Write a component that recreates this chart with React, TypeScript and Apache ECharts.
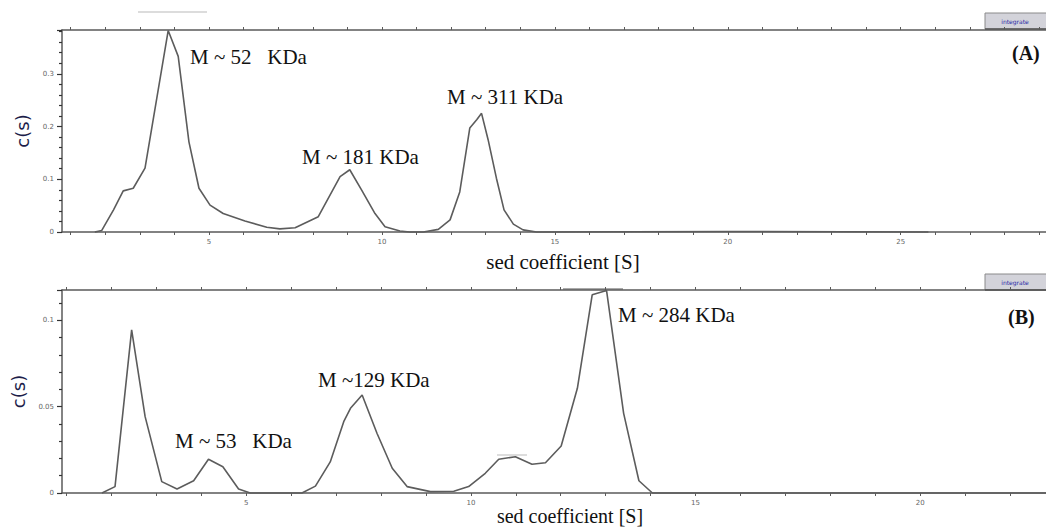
import React, { useEffect, useRef } from "react";
import * as echarts from "echarts";

// Panel A data: sed coefficient [S] vs c(s)
const sedA = [1.7, 1.9, 2.24, 2.52, 2.81, 3.15, 3.82, 4.11, 4.42, 4.71, 5.03, 5.41, 6.04, 6.67, 7.05, 7.49, 8.16, 8.79, 9.07, 9.41, 9.8, 10.09, 10.52, 10.8, 11.2, 11.63, 11.97, 12.25, 12.54, 12.74, 12.88, 13.07, 13.31, 13.53, 13.8, 14.08, 14.47, 20, 25.8];
const csA = [0, 0.003, 0.042, 0.078, 0.083, 0.121, 0.382, 0.333, 0.171, 0.083, 0.051, 0.035, 0.021, 0.009, 0.006, 0.008, 0.029, 0.105, 0.118, 0.08, 0.035, 0.01, 0.002, 0, 0, 0.005, 0.023, 0.076, 0.197, 0.213, 0.225, 0.175, 0.102, 0.042, 0.015, 0.004, 0, 0.001, 0];

// Panel B data
const sedB = [1.79, 2.08, 2.45, 2.75, 3.12, 3.46, 3.83, 4.16, 4.48, 4.83, 5.09, 6.24, 6.54, 6.87, 7.17, 7.32, 7.58, 7.91, 8.25, 8.58, 9.1, 9.62, 9.95, 10.32, 10.62, 10.99, 11.36, 11.66, 12.01, 12.37, 12.7, 13.02, 13.4, 13.74, 14.04, 14.6, 22.8];
const csB = [0, 0.0037, 0.0944, 0.0442, 0.0066, 0.0023, 0.0071, 0.0195, 0.0152, 0.0023, 0, 0, 0.004, 0.018, 0.0413, 0.049, 0.0567, 0.0346, 0.0143, 0.0037, 0.0008, 0.001, 0.0037, 0.0114, 0.0195, 0.021, 0.0166, 0.0175, 0.0272, 0.0606, 0.1147, 0.1172, 0.0461, 0.0071, 0, 0, 0];

// Tick labels / tick positions
const xLabelsA = [5, 10, 15, 20, 25];
const xTicksA = [1, 2, 3, 4, 5, 6, 7, 8, 9, 10, 11, 12, 13, 14, 15, 16, 17, 18, 19, 20, 21, 22, 23, 24, 25, 26, 27, 28, 29];
const xLabelsB = [5, 10, 15, 20];
const xTicksB = [1, 2, 3, 4, 5, 6, 7, 8, 9, 10, 11, 12, 13, 14, 15, 16, 17, 18, 19, 20, 21, 22];
const yLabelsA = [0, 0.1, 0.2, 0.3];
const yLabelsB = [0, 0.05, 0.1];

// Annotations
const labelsA = [
  { text: "M ~ 52   KDa", x: 190, y: 57 },
  { text: "M ~ 181 KDa", x: 302, y: 157 },
  { text: "M ~ 311 KDa", x: 447, y: 97 },
];
const labelsB = [
  { text: "M ~ 53   KDa", x: 175, y: 441 },
  { text: "M ~129 KDa", x: 318, y: 380 },
  { text: "M ~ 284 KDa", x: 618, y: 315 },
];
const xTitle = "sed coefficient [S]";

const AXIS = "#5a5a5a";
const SERIF = "Liberation Serif";
const TICKFONT = { fontSize: 7, color: "#666", fontFamily: "DejaVu Sans" };

function xAxes(gridIndex: number, min: number, max: number, labels: number[], ticks: number[]) {
  return [
    {
      type: "value",
      gridIndex,
      position: "bottom",
      min,
      max,
      axisLine: { show: true, onZero: false, lineStyle: { color: AXIS, width: 1.5 } },
      axisTick: { show: true, customValues: ticks, length: 3, lineStyle: { color: AXIS } },
      axisLabel: { show: true, customValues: labels, margin: 6, ...TICKFONT },
      splitLine: { show: false },
    },
    {
      type: "value",
      gridIndex,
      position: "top",
      min,
      max,
      axisLine: { show: true, onZero: false, lineStyle: { color: AXIS, width: 1.5 } },
      axisTick: { show: true, customValues: ticks, length: 3, lineStyle: { color: AXIS } },
      axisLabel: { show: false },
      splitLine: { show: false },
    },
  ];
}

function yAxis(gridIndex: number, max: number, interval: number, labels: number[]) {
  return {
    type: "value",
    gridIndex,
    position: "left",
    min: 0,
    max,
    interval,
    name: "c(s)",
    nameLocation: "middle",
    nameGap: 30,
    nameTextStyle: { fontFamily: "DejaVu Sans", fontSize: 18, color: "#1d1d4a" },
    axisLine: { show: true, onZero: false, lineStyle: { color: AXIS, width: 1.5 } },
    axisTick: { show: true, inside: false, length: 5, lineStyle: { color: "#333", width: 1.2 } },
    minorTick: { show: true, splitNumber: 5, length: 3, lineStyle: { color: "#333", width: 1.2 } },
    axisLabel: {
      show: true,
      showMaxLabel: false,
      margin: 8,
      ...TICKFONT,
      formatter: (v: number) => {
        const hit = labels.find((l) => Math.abs(l - v) < 1e-9);
        return hit === undefined ? "" : String(hit);
      },
    },
    splitLine: { show: false },
    minorSplitLine: { show: false },
  };
}

function annot(items: { text: string; x: number; y: number }[]) {
  return items.map((l) => ({
    type: "text",
    x: l.x,
    y: l.y,
    style: {
      text: l.text,
      fontFamily: SERIF,
      fontSize: 21,
      fill: "#111",
      verticalAlign: "middle",
      align: "left",
    },
  }));
}

function button(y: number) {
  return [
    { type: "rect", shape: { x: 985, y, width: 62, height: 16 }, style: { fill: "#d3d3da", stroke: "#8a8a8a", lineWidth: 1 } },
    { type: "line", shape: { x1: 985, y1: y + 16, x2: 1046, y2: y + 16 }, style: { stroke: "#555", lineWidth: 1.5 } },
    {
      type: "text",
      x: 1015,
      y: y + 8,
      style: { text: "integrate", fontFamily: "DejaVu Sans", fontSize: 6, fill: "#2a2aa8", align: "center", verticalAlign: "middle" },
    },
  ];
}

export default function App() {
  const ref = useRef<HTMLDivElement>(null);
  useEffect(() => {
    if (!ref.current) return;
    const chart = echarts.init(ref.current, null, { renderer: "svg" });
    const option: any = {
      animation: false,
      backgroundColor: "#fff",
      grid: [
        { left: 62, top: 30, right: 0, bottom: 296, containLabel: false },
        { left: 62, top: 290, right: 0, bottom: 35, containLabel: false },
      ],
      xAxis: [
        ...xAxes(0, 0.75, 29.2, xLabelsA, xTicksA),
        ...xAxes(1, 0.9, 22.8, xLabelsB, xTicksB),
      ],
      yAxis: [yAxis(0, 0.383, 0.1, yLabelsA), yAxis(1, 0.1175, 0.05, yLabelsB)],
      series: [
        {
          type: "line",
          xAxisIndex: 0,
          yAxisIndex: 0,
          data: sedA.map((x, i) => [x, csA[i]]),
          showSymbol: false,
          lineStyle: { color: "#5c5c5c", width: 1.6 },
          clip: false,
        },
        {
          type: "line",
          xAxisIndex: 2,
          yAxisIndex: 1,
          data: sedB.map((x, i) => [x, csB[i]]),
          showSymbol: false,
          lineStyle: { color: "#5c5c5c", width: 1.6 },
          clip: false,
        },
      ],
      graphic: [
        ...annot(labelsA),
        ...annot(labelsB),
        {
          type: "text",
          x: 563,
          y: 262,
          style: { text: xTitle, fontFamily: SERIF, fontSize: 21, fill: "#111", align: "center", verticalAlign: "middle" },
        },
        {
          type: "text",
          x: 570,
          y: 516,
          style: { text: xTitle, fontFamily: SERIF, fontSize: 20, fill: "#111", align: "center", verticalAlign: "middle" },
        },
        {
          type: "text",
          x: 1012,
          y: 53,
          style: { text: "(A)", fontFamily: SERIF, fontSize: 20, fontWeight: "bold", fill: "#111", verticalAlign: "middle" },
        },
        {
          type: "text",
          x: 1008,
          y: 317,
          style: { text: "(B)", fontFamily: SERIF, fontSize: 20, fontWeight: "bold", fill: "#111", verticalAlign: "middle" },
        },
        ...button(13),
        ...button(274),
        { type: "line", shape: { x1: 138, y1: 12, x2: 207, y2: 12 }, style: { stroke: "#d0d0d0", lineWidth: 1.5 } },
        { type: "line", shape: { x1: 563, y1: 289, x2: 623, y2: 289 }, style: { stroke: "#aaaaaa", lineWidth: 2 } },
        { type: "line", shape: { x1: 497, y1: 455, x2: 527, y2: 455 }, style: { stroke: "#bbbbbb", lineWidth: 1 } },
      ],
    };
    chart.setOption(option);
    return () => chart.dispose();
  }, []);
  return <div ref={ref} style={{ position: "absolute", left: 0, top: 0, width: 1046, height: 528 }} />;
}
